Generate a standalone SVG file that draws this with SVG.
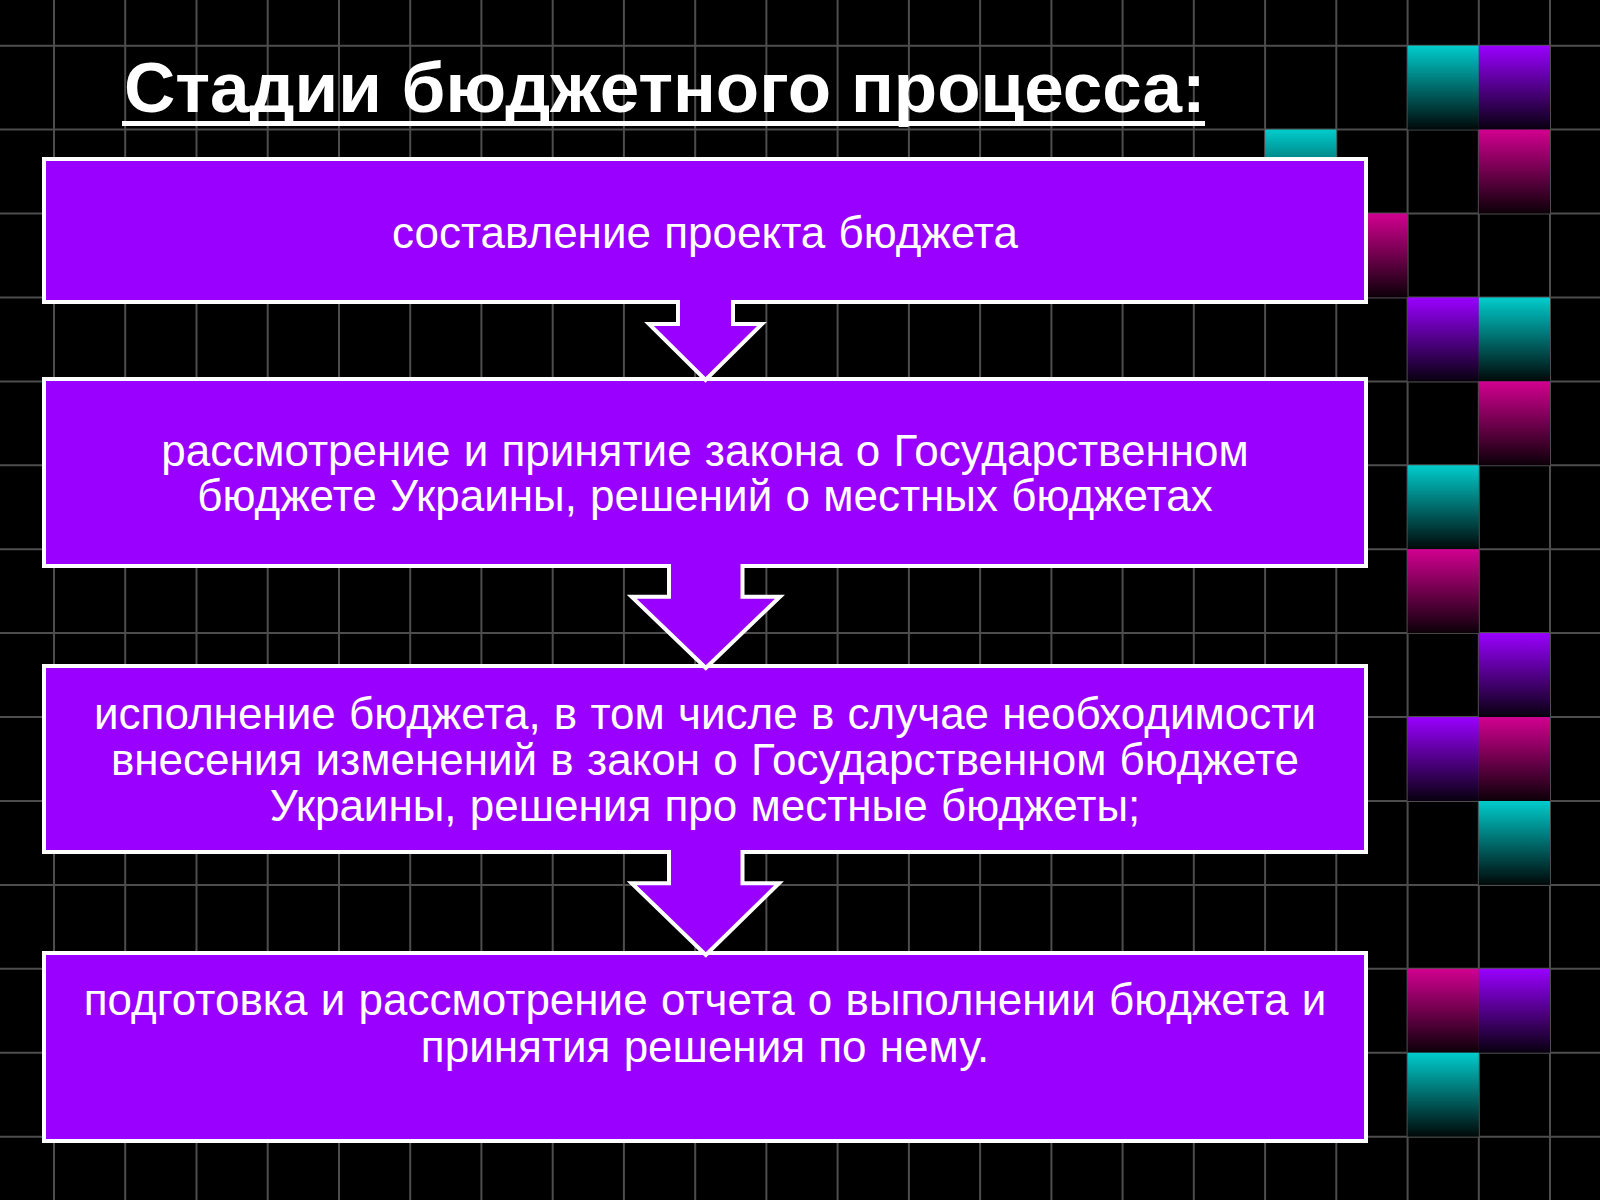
<svg xmlns="http://www.w3.org/2000/svg" width="1600" height="1200" viewBox="0 0 1600 1200">
<defs>
<linearGradient id="gCyan" x1="0" y1="0" x2="0" y2="1"><stop offset="0" stop-color="#00CCCC"/><stop offset="1" stop-color="#000808"/></linearGradient>
<linearGradient id="gPurple" x1="0" y1="0" x2="0" y2="1"><stop offset="0" stop-color="#9900FF"/><stop offset="1" stop-color="#08000f"/></linearGradient>
<linearGradient id="gMagenta" x1="0" y1="0" x2="0" y2="1"><stop offset="0" stop-color="#D20090"/><stop offset="1" stop-color="#0c0008"/></linearGradient>
<style>
.grid{stroke:#4d4d4d;stroke-width:2;fill:none}
.sq{stroke:none}
.cy{fill:url(#gCyan)}
.pu{fill:url(#gPurple)}
.ma{fill:url(#gMagenta)}
.box{fill:#9900FF;stroke:#FFFFFF;stroke-width:4}
.afill{fill:#9900FF;stroke:none}
.aline{fill:none;stroke:#FFFFFF;stroke-width:4;stroke-linejoin:miter}
.title{font-family:"Liberation Sans",Arial,sans-serif;font-weight:bold;font-size:71px;fill:#FFFFFF}
.lbl{font-family:"Liberation Sans",Arial,sans-serif;font-size:44px;fill:#FFFFFF;text-anchor:middle;word-spacing:1px}
</style>
</defs>
<rect x="0" y="0" width="1600" height="1200" fill="#000000"/>
<path class="grid" d="M54 0V1200M125.2 0V1200M196.5 0V1200M267.7 0V1200M339 0V1200M410.2 0V1200M481.4 0V1200M552.7 0V1200M623.9 0V1200M695.2 0V1200M766.4 0V1200M837.6 0V1200M908.9 0V1200M980.1 0V1200M1051.4 0V1200M1122.6 0V1200M1193.8 0V1200M1265.1 0V1200M1336.3 0V1200M1407.6 0V1200M1478.8 0V1200M1550 0V1200M0 45.7H1600M0 129.6H1600M0 213.5H1600M0 297.5H1600M0 381.4H1600M0 465.3H1600M0 549.2H1600M0 633.1H1600M0 717.1H1600M0 801H1600M0 884.9H1600M0 968.8H1600M0 1052.7H1600M0 1136.7H1600"/>
<g id="squares">
<rect class="sq cy" x="1407.6" y="45.7" width="71.2" height="83.9"/>
<rect class="sq pu" x="1478.8" y="45.7" width="71.2" height="83.9"/>
<rect class="sq cy" x="1265.1" y="129.6" width="71.2" height="83.9"/>
<rect class="sq ma" x="1478.8" y="129.6" width="71.2" height="83.9"/>
<rect class="sq ma" x="1336.3" y="213.5" width="71.2" height="83.9"/>
<rect class="sq pu" x="1407.6" y="297.5" width="71.2" height="83.9"/>
<rect class="sq cy" x="1478.8" y="297.5" width="71.2" height="83.9"/>
<rect class="sq ma" x="1478.8" y="381.4" width="71.2" height="83.9"/>
<rect class="sq cy" x="1407.6" y="465.3" width="71.2" height="83.9"/>
<rect class="sq ma" x="1407.6" y="549.2" width="71.2" height="83.9"/>
<rect class="sq pu" x="1478.8" y="633.1" width="71.2" height="83.9"/>
<rect class="sq pu" x="1407.6" y="717.1" width="71.2" height="83.9"/>
<rect class="sq ma" x="1478.8" y="717.1" width="71.2" height="83.9"/>
<rect class="sq cy" x="1478.8" y="801" width="71.2" height="83.9"/>
<rect class="sq ma" x="1407.6" y="968.8" width="71.2" height="83.9"/>
<rect class="sq pu" x="1478.8" y="968.8" width="71.2" height="83.9"/>
<rect class="sq cy" x="1407.6" y="1052.7" width="71.2" height="83.9"/>
</g>
<g id="title">
<text class="title" x="124" y="111.7">Стадии бюджетного процесса:</text>
<rect x="122" y="121" width="1083" height="5" fill="#FFFFFF"/>
</g>
<g id="node1">
<rect class="box" x="44" y="159" width="1322" height="143"/>
<text class="lbl" x="705" y="247.5">составление проекта бюджета</text>
</g>
<g id="node2">
<rect class="box" x="44" y="379" width="1322" height="187"/>
<text class="lbl" x="705" y="465.5">рассмотрение и принятие закона о Государственном</text>
<text class="lbl" x="705" y="511">бюджете Украины, решений о местных бюджетах</text>
</g>
<g id="node3">
<rect class="box" x="44" y="666" width="1322" height="186"/>
<text class="lbl" x="705" y="729">исполнение бюджета, в том числе в случае необходимости</text>
<text class="lbl" x="705" y="775">внесения изменений в закон о Государственном бюджете</text>
<text class="lbl" x="705" y="821">Украины, решения про местные бюджеты;</text>
</g>
<g id="node4">
<rect class="box" x="44" y="953" width="1322" height="188"/>
<text class="lbl" x="705" y="1015">подготовка и рассмотрение отчета о выполнении бюджета и</text>
<text class="lbl" x="705" y="1061.5">принятия решения по нему.</text>
</g>
<g id="connectors">
<g id="arrow1">
<polygon class="afill" points="678,298 733,298 733,324 762,324 705.5,380 649,324 678,324"/>
<polyline class="aline" points="678,300 678,324 649,324 705.5,380 762,324 733,324 733,300"/>
</g>
<g id="arrow2">
<polygon class="afill" points="669,562 742.5,562 742.5,596.7 780,596.7 705.8,668 631.7,596.7 669,596.7"/>
<polyline class="aline" points="669,564 669,596.7 631.7,596.7 705.8,668 780,596.7 742.5,596.7 742.5,564"/>
</g>
<g id="arrow3">
<polygon class="afill" points="669,848 742.5,848 742.5,883.3 779,883.3 705.8,955 631.7,883.3 669,883.3"/>
<polyline class="aline" points="669,850 669,883.3 631.7,883.3 705.8,955 779,883.3 742.5,883.3 742.5,850"/>
</g>
</g>
</svg>
